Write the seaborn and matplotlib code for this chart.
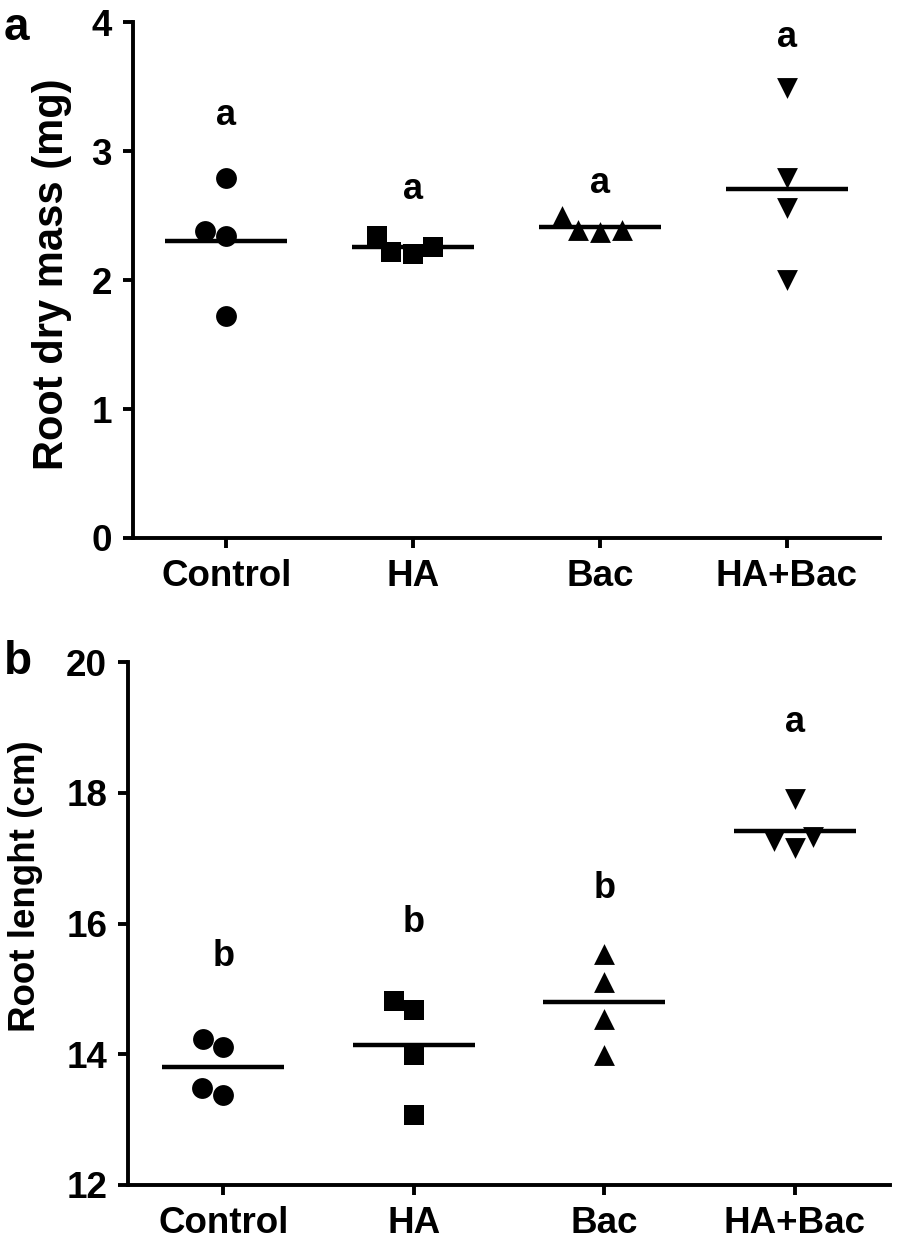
import numpy as np
import pandas as pd
import matplotlib
matplotlib.use("Agg")
import matplotlib.pyplot as plt
import seaborn as sns

# treatments and markers
groups = ["Control", "HA", "Bac", "HA+Bac"]
markers = ["o", "s", "^", "v"]

# panel a - root dry mass (mg), 4 replicates each
dry_control = [2.79, 2.38, 2.34, 1.72]
dry_ha = [2.26, 2.20, 2.22, 2.34]
dry_bac = [2.39, 2.37, 2.39, 2.50]
dry_habac = [3.49, 2.79, 2.56, 2.00]
dry_letters = ["a", "a", "a", "a"]
dry_letter_y = [3.28, 2.70, 2.75, 3.88]

# panel b - root length (cm)
len_control = [14.23, 14.11, 13.38, 13.48]
len_ha = [14.68, 14.82, 13.99, 13.07]
len_bac = [15.11, 15.54, 14.54, 13.99]
len_habac = [17.90, 17.33, 17.15, 17.26]
len_letters = ["b", "b", "b", "a"]
len_letter_y = [15.49, 16.02, 16.54, 19.08]


def makeFrame(vals):
    rows = []
    for g, v in zip(groups, vals):
        for x in v:
            rows.append((g, x))
    return pd.DataFrame(rows, columns=["group", "value"])


sns.set_style("ticks")
plt.rcParams["font.family"] = ["Liberation Sans", "DejaVu Sans"]
plt.rcParams["font.weight"] = "bold"
plt.rcParams["axes.labelweight"] = "bold"
plt.rcParams["text.color"] = "black"
plt.rcParams["axes.labelcolor"] = "black"
plt.rcParams["axes.linewidth"] = 2.8
plt.rcParams["xtick.major.width"] = 2.8
plt.rcParams["ytick.major.width"] = 2.8
plt.rcParams["xtick.major.size"] = 7
plt.rcParams["ytick.major.size"] = 7
plt.rcParams["xtick.color"] = "black"
plt.rcParams["ytick.color"] = "black"
plt.rcParams["axes.edgecolor"] = "black"


def scatterPanel(ax, df, letters, letter_y, ylim, yticks, ylabel, label_size, label_x, label_y):
    for g, m in zip(groups, markers):
        sub = df[df["group"] == g]
        sns.swarmplot(data=sub, x="group", y="value", order=groups, ax=ax,
                      color="black", marker=m, size=15, linewidth=0, zorder=3)
    sns.pointplot(data=df, x="group", y="value", order=groups, ax=ax,
                  estimator="mean", errorbar=None, color="black",
                  marker="_", markersize=88, markeredgewidth=3.2,
                  linestyle="none", zorder=2)
    for i, (t, y) in enumerate(zip(letters, letter_y)):
        ax.text(i, y, t, ha="center", va="center", fontsize=26, fontweight="bold")
    ax.set_xlim(-0.5, 3.5)
    ax.set_ylim(*ylim)
    ax.set_yticks(yticks)
    ax.set_xlabel("")
    ax.set_ylabel(ylabel, fontsize=label_size, fontweight="bold")
    ax.yaxis.set_label_coords(label_x, label_y)
    ax.yaxis.label.set_va("center")
    ax.tick_params(labelsize=26.5, pad=8)
    for lab in ax.get_xticklabels() + ax.get_yticklabels():
        lab.set_fontweight("bold")
    sns.despine(ax=ax)


fig = plt.figure(figsize=(8.98, 12.48), dpi=100)
ax1 = fig.add_axes([0.148, 0.569, 0.832, 0.413])
ax2 = fig.add_axes([0.1425, 0.0505, 0.8485, 0.419])

scatterPanel(ax1, makeFrame([dry_control, dry_ha, dry_bac, dry_habac]),
             dry_letters, dry_letter_y, (0, 4), [0, 1, 2, 3, 4],
             "Root dry mass (mg)", 30, -0.108, 0.512)
scatterPanel(ax2, makeFrame([len_control, len_ha, len_bac, len_habac]),
             len_letters, len_letter_y, (12, 20), [12, 14, 16, 18, 20],
             "Root lenght (cm)", 26.5, -0.135, 0.572)

fig.text(0.004, 0.995, "a", fontsize=33, fontweight="bold", va="top")
fig.text(0.004, 0.487, "b", fontsize=33, fontweight="bold", va="top")

fig.savefig("out.png", dpi=100)
